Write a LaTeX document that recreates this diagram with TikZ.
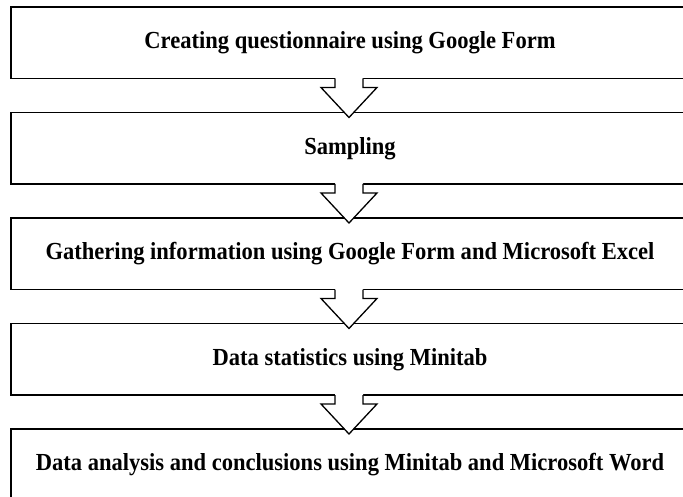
\documentclass[tikz,border=0pt]{standalone}
\usepackage{fontspec}
\setmainfont{Liberation Serif}[FakeStretch=0.92]
\usetikzlibrary{calc}
\begin{document}
\begin{tikzpicture}[x=1pt,y=-1pt,
  stepbox/.style={draw, line width=1.6pt, minimum width=678pt, minimum height=71.5pt,
    anchor=north west, inner sep=0pt, outer sep=0pt,
    font=\fontsize{24.5}{29}\selectfont\bfseries},
  flowline/.style={draw, line width=1.3pt, line join=miter}]
\useasboundingbox (0,0) rectangle (683,497);
\node[stepbox] (b1) at (11,7) {Creating questionnaire using Google Form};
\node[stepbox] (b2) at (11,112.5) {Sampling};
\node[stepbox] (b3) at (11,218) {Gathering information using Google Form and Microsoft Excel};
\node[stepbox] (b4) at (11,323.5) {Data statistics using Minitab};
\node[stepbox] (b5) at (11,429) {Data analysis and conclusions using Minitab and Microsoft Word};
\foreach \p/\q in {b1/b2, b2/b3, b3/b4, b4/b5}{
  \fill[white] ($(\p.south)+(-15,-3)$) -- ($(\p.south)+(-15,9)$) -- ($(\p.south)+(-29,9)$)
    -- ($(\q.north)+(-1,5)$) -- ($(\p.south)+(27,9)$) -- ($(\p.south)+(13,9)$)
    -- ($(\p.south)+(13,-3)$) -- cycle;
  \draw[flowline] ($(\p.south)+(-15,0)$) -- ($(\p.south)+(-15,9)$) -- ($(\p.south)+(-29,9)$)
    -- ($(\q.north)+(-1,5)$) -- ($(\p.south)+(27,9)$) -- ($(\p.south)+(13,9)$)
    -- ($(\p.south)+(13,0)$);
}
\end{tikzpicture}
\end{document}
